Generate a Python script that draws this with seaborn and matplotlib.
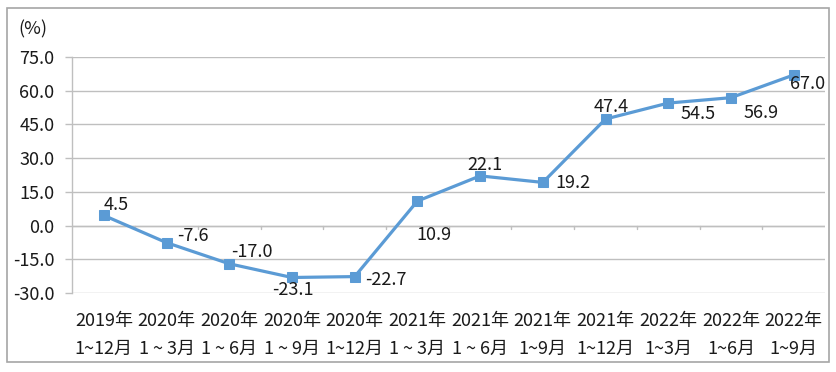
import matplotlib
matplotlib.use("Agg")
import matplotlib.pyplot as plt
import seaborn as sns
import pandas as pd
import numpy as np
from matplotlib.patches import Rectangle

# Datos
periodos = ["2019年\n1~12月", "2020年\n1 ~ 3月", "2020年\n1 ~ 6月", "2020年\n1 ~ 9月",
            "2020年\n1~12月", "2021年\n1 ~ 3月", "2021年\n1 ~ 6月", "2021年\n1~9月",
            "2021年\n1~12月", "2022年\n1~3月", "2022年\n1~6月", "2022年\n1~9月"]
valores = [4.5, -7.6, -17.0, -23.1, -22.7, 10.9, 22.1, 19.2, 47.4, 54.5, 56.9, 67.0]
# desplazamiento de cada etiqueta (px)
desp_x = [12, 26, 23, 1, 31, 17, 5, 30, 6, 30, 30, 14]
desp_y = [10, 7, 12, -13, -3, -34, 11, -1, 12, -11, -15, -9]
y_ticks = [-30, -15, 0, 15, 30, 45, 60, 75]

sns.set_theme(style="white")
plt.rcParams['font.family'] = ['Noto Sans CJK SC', 'DejaVu Sans']

df = pd.DataFrame({"periodo": periodos, "valor": valores, "x": np.arange(len(periodos))})

fig = plt.figure(figsize=(8.37, 3.72), dpi=100)
ax = fig.add_axes([72.5 / 837, 1 - 293 / 372, (825 - 72.5) / 837, (293 - 57) / 372])

color = "#5B9BD5"
fs = 13
sns.lineplot(data=df, x="x", y="valor", ax=ax, color=color, linewidth=2.3,
             marker="s", markersize=6.5, markeredgecolor=color, markerfacecolor=color)

ax.set_xlim(-0.5, len(periodos) - 0.5)
ax.set_ylim(-30, 75)
ax.set_yticks(y_ticks)
ax.set_yticklabels([f"{v:.1f}" for v in y_ticks], fontsize=fs, color="#1a1a1a")
for v in y_ticks:
    ax.axhline(v, color="#BFBFBF", linewidth=1, zorder=0)

# eje x cruzando en 0 con marcas entre categorías
ax.axhline(0, color="#BFBFBF", linewidth=1, zorder=0)
for b in np.arange(0.5, len(periodos) - 0.5, 1):
    ax.plot([b, b], [0, -1.6], color="#BFBFBF", linewidth=1, zorder=0, clip_on=False)

ax.set_xticks(df["x"])
ax.set_xticklabels(periodos, fontsize=fs, color="#1a1a1a", linespacing=1.65)
ax.tick_params(axis="x", length=0, pad=14)
ax.tick_params(axis="y", length=5, color="#BFBFBF", width=1, left=True, pad=8)

for s in ["top", "right", "bottom"]:
    ax.spines[s].set_visible(False)
ax.spines["left"].set_color("#BFBFBF")
ax.spines["left"].set_linewidth(1)
ax.set_xlabel("")
ax.set_ylabel("")

for xi, v, dx, dy in zip(df["x"], valores, desp_x, desp_y):
    ax.annotate(f"{v:.1f}", (xi, v), xytext=(dx, dy), textcoords="offset pixels",
                ha="center", va="center", fontsize=fs, color="#1a1a1a")

fig.text(33 / 837, 1 - 29 / 372, "(%)", fontsize=fs, ha="center", va="center", color="#1a1a1a")

fig.patches.append(Rectangle((7 / 837, 1 - 362 / 372), (829 - 7) / 837, (362 - 8) / 372,
                             transform=fig.transFigure, fill=False, edgecolor="#A6A6A6",
                             linewidth=1.2))

fig.savefig("out.png", dpi=100)
